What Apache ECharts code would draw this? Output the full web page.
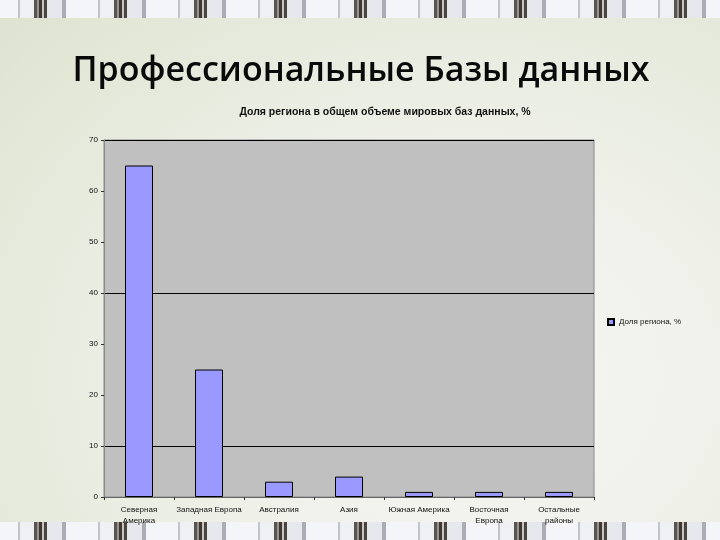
<!DOCTYPE html>
<html><head><meta charset="utf-8">
<script src="https://cdn.jsdelivr.net/npm/echarts@6/dist/echarts.min.js"></script>
<style>
html,body{margin:0;padding:0;width:720px;height:540px;overflow:hidden;}
body{background:radial-gradient(ellipse at 65% 70%, #f7f7f3 0%, #eef0e8 45%, #dde3cf 100%);position:relative;}
.strip{position:absolute;left:0;width:720px;background:repeating-linear-gradient(90deg,#f4f5f8 0px,#f4f5f8 18px,#bfc3cc 18px,#bfc3cc 20px,#eef0f4 20px,#eef0f4 34px,#5a5450 34px,#5a5450 37px,#9a928c 37px,#9a928c 39px,#3e3834 39px,#3e3834 42px,#c9c4c0 42px,#c9c4c0 44px,#4b4541 44px,#4b4541 47px,#e6e8ee 47px,#e6e8ee 62px,#a9adb6 62px,#a9adb6 66px,#f4f5f8 66px,#f4f5f8 80px);}
#top{top:0;height:18px;}
#bot{top:522px;height:18px;}
#c{position:absolute;left:0;top:0;width:720px;height:540px;}
</style></head>
<body>
<div class="strip" id="top"></div>
<div class="strip" id="bot"></div>
<div id="c"></div>
<script>
const pageTitle = 'Профессиональные Базы данных';
const chartTitle = 'Доля региона в общем объеме мировых баз данных, %';
const seriesName = 'Доля региона, %';
const categories = ['Северная\nАмерика','Западная Европа','Австралия','Азия','Южная Америка','Восточная\nЕвропа','Остальные\nрайоны'];
const values = [65, 25, 3, 4, 1, 1, 1];
const yTicks = [0, 10, 20, 30, 40, 50, 60, 70];

const chart = echarts.init(document.getElementById('c'));
chart.setOption({
  animation: false,
  backgroundColor: 'transparent',
  title: [
    {text: pageTitle, left: 356, top: 49, textAlign: 'center',
     textStyle: {fontFamily: 'Open Sans', fontWeight: 600, fontSize: 34, color: '#0a0a0a'}},
    {text: chartTitle, left: 380, top: 102, textAlign: 'center',
     textStyle: {fontFamily: 'Liberation Sans', fontWeight: 'bold', fontSize: 10.5, color: '#111'}}
  ],
  legend: {
    left: 602, top: 313, itemWidth: 6, itemHeight: 6, itemGap: 4,
    textStyle: {fontFamily: 'Liberation Sans', fontSize: 8, color: '#111'},
    data: [{name: seriesName, icon: 'rect'}]
  },
  grid: {left: 104, right: 126, top: 140, bottom: 43, show: true,
         backgroundColor: '#c0c0c0', borderColor: '#8a8a8a', borderWidth: 1},
  xAxis: {
    type: 'category', data: categories,
    axisLine: {lineStyle: {color: '#666', width: 1}},
    axisTick: {show: true, length: 3, lineStyle: {color: '#333'}},
    axisLabel: {fontFamily: 'Liberation Sans', fontSize: 8, color: '#111', lineHeight: 11, margin: 7, interval: 0}
  },
  yAxis: {
    type: 'value', min: 0, max: 70, interval: 10,
    axisLine: {show: true, lineStyle: {color: '#8a8a8a'}},
    axisTick: {show: true, length: 3, lineStyle: {color: '#333'}},
    axisLabel: {fontFamily: 'Liberation Sans', fontSize: 8, color: '#111', margin: 6,
      formatter: v => yTicks.includes(v) ? String(v) : ''},
    splitLine: {show: true, lineStyle: {color: ['transparent', '#000', 'transparent'], width: 1}}
  },
  series: [{
    name: seriesName, type: 'bar', data: values, barWidth: 28,
    itemStyle: {color: '#9999ff', borderColor: '#000', borderWidth: 1}
  }]
});
</script>
</body></html>
